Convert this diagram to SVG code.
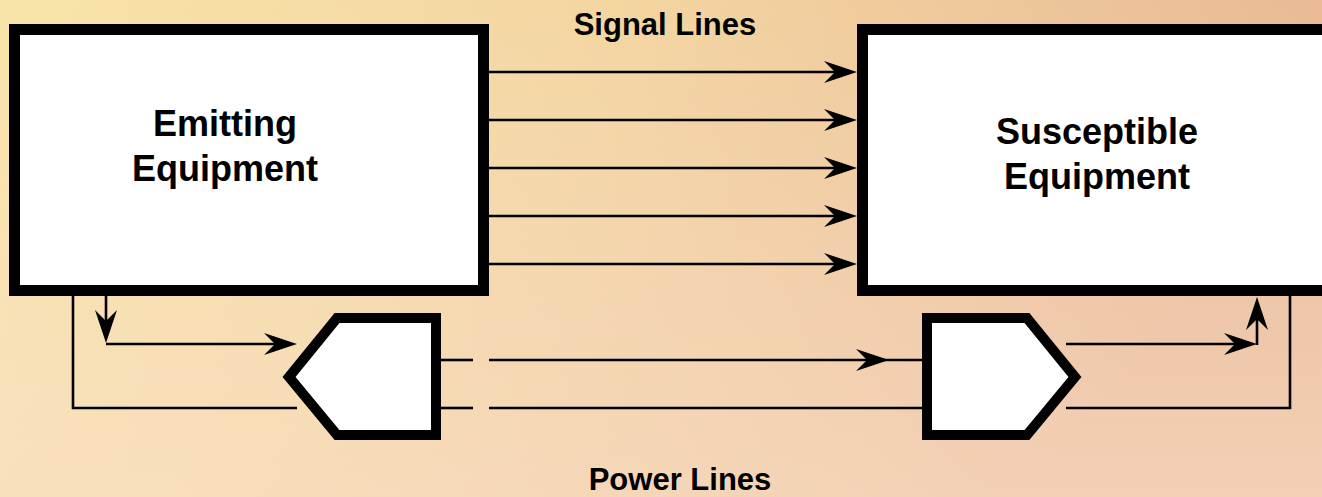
<svg xmlns="http://www.w3.org/2000/svg" width="1322" height="497" viewBox="0 0 1322 497">
<defs>
<linearGradient id="bg" x1="0" y1="0" x2="1" y2="0.35">
<stop offset="0" stop-color="#F8E4A8"/>
<stop offset="0.45" stop-color="#F3D4A0"/>
<stop offset="1" stop-color="#E7B492"/>
</linearGradient>
<linearGradient id="fade" x1="0" y1="0" x2="0" y2="1">
<stop offset="0" stop-color="#FFF0DC" stop-opacity="0"/>
<stop offset="1" stop-color="#FCE6D2" stop-opacity="0.55"/>
</linearGradient>
<marker id="arr" viewBox="-20 -12 35 24" refX="0" refY="0" markerWidth="35" markerHeight="24" markerUnits="userSpaceOnUse" orient="auto">
<path d="M14,0 L-19,-11 L-8,0 L-19,11 Z" fill="#000"/>
</marker>
<style>
.box{fill:#fff;stroke:#000;stroke-width:11;stroke-linejoin:miter}
.blk{fill:#fff;stroke:#000;stroke-width:10;stroke-linejoin:miter}
.ln{fill:none;stroke:#000;stroke-width:2.6}
.arw{marker-end:url(#arr)}
.lbl{font-family:"Liberation Sans",Arial,sans-serif;font-weight:bold;fill:#000;text-anchor:middle}
</style>
</defs>
<rect width="1322" height="497" fill="url(#bg)"/>
<rect width="1322" height="497" fill="url(#fade)"/>

<g id="emitting">
<rect class="box" x="14.5" y="29.5" width="469" height="261"/>
<text class="lbl" font-size="36" x="225" y="136">Emitting</text>
<text class="lbl" font-size="36" x="225" y="181">Equipment</text>
</g>

<g id="susceptible">
<rect class="box" x="862.5" y="29.5" width="480" height="261"/>
<text class="lbl" font-size="36" x="1097" y="144">Susceptible</text>
<text class="lbl" font-size="36" x="1097" y="189">Equipment</text>
</g>

<g id="filter-left">
<polygon class="blk" points="289,377 337,318 436,318 436,435 337,435"/>
</g>

<g id="filter-right">
<polygon class="blk" points="927,318 1027,318 1075,377 1027,435 927,435"/>
</g>

<g id="labels">
<text class="lbl" font-size="31" x="665" y="35">Signal Lines</text>
<text class="lbl" font-size="31" x="680" y="490">Power Lines</text>
</g>

<g id="connectors">
<path class="ln arw" d="M489,72 H843"/>
<path class="ln arw" d="M489,120 H843"/>
<path class="ln arw" d="M489,168 H843"/>
<path class="ln arw" d="M489,216 H843"/>
<path class="ln arw" d="M489,264 H843"/>

<path class="ln arw" d="M106,296 V329"/>
<path class="ln arw" d="M106,344 H283"/>
<path class="ln" d="M73,296 V408 H297"/>

<path class="ln" d="M441,360 H473"/>
<path class="ln arw" d="M489,360 H875"/>
<path class="ln" d="M875,360 H922"/>
<path class="ln" d="M441,408 H473"/>
<path class="ln" d="M489,408 H922"/>

<path class="ln arw" d="M1066,344 H1243"/>
<path class="ln arw" d="M1257,345 V311"/>
<path class="ln" d="M1066,408 H1290 V296"/>
</g>
</svg>
